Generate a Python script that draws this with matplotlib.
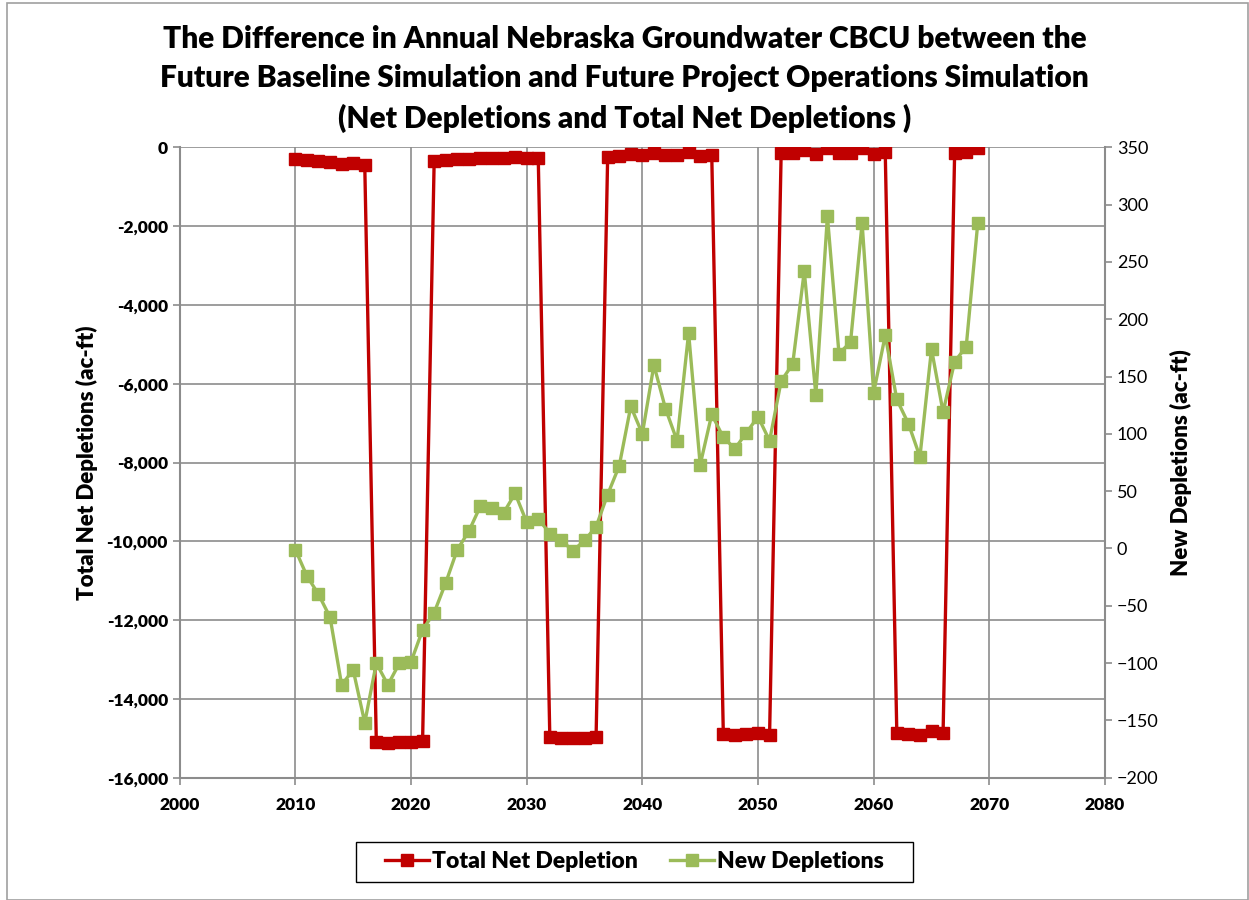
import matplotlib
matplotlib.use("Agg")
import matplotlib.pyplot as plt
import matplotlib.ticker as mticker
from matplotlib.patches import Rectangle

plt.rcParams['font.family'] = ['Lato', 'DejaVu Sans']

years = list(range(2010, 2070))

total_net = [
    -305, -322, -340, -365, -424, -406, -457,
    -15100, -15127, -15094, -15094, -15060,
    -356, -330, -305, -297, -272, -272, -272, -254, -280, -280,
    -14975, -15000, -15000, -15000, -14966,
    -254, -221, -170, -203, -137, -188, -203, -112, -221, -188,
    -14890, -14908, -14890, -14873, -14908,
    -152, -137, -69, -170, -10, -137, -137, -17, -170, -120,
    -14856, -14890, -14916, -14806, -14873,
    -137, -120, -17,
]

new_depl = [
    -1, -24, -40, -60, -119, -106, -152, -100, -119, -100,
    -99, -71, -56, -30, -1, 15, 37, 35, 31, 48,
    23, 26, 13, 7, -2, 7, 19, 47, 72, 124,
    100, 160, 122, 94, 188, 73, 117, 97, 87, 101,
    115, 94, 146, 161, 242, 134, 290, 170, 180, 284,
    136, 186, 130, 109, 80, 174, 119, 163, 176, 284,
]

red = '#C00000'
green = '#9BBB59'
grid_c = '#8C8C8C'
heavy = 'heavy'
W, H = 1249, 900

fig = plt.figure(figsize=(12.49, 9), dpi=100)
# outer chart border
fig.patches.append(Rectangle((7 / W, 0), 1240.5 / W, 1 - 3 / H,
                             transform=fig.transFigure, fill=False,
                             edgecolor='#A0A0A0', linewidth=1.2))

ax = fig.add_axes([179.7 / W, 1 - 777.7 / H, 925.3 / W, 630.4 / H])
ax2 = ax.twinx()

ax.plot(years, total_net, color=red, lw=2.4, marker='s', ms=8,
        label='Total Net Depletion', zorder=3)
ax2.plot(years, new_depl, color=green, lw=2.4, marker='s', ms=8,
         label='New Depletions', zorder=3)

ax.set_xlim(2000, 2080)
ax.set_ylim(-16000, 0)
ax2.set_ylim(-200, 350)
ax.set_xticks(range(2000, 2081, 10))
ax.set_yticks(range(-16000, 1, 2000))
ax2.set_yticks(range(-200, 351, 50))
ax.yaxis.set_major_formatter(mticker.FuncFormatter(lambda v, p: f'{int(v):,}'))

ax.grid(True, color=grid_c, lw=1.2)
ax.set_axisbelow(True)
for a in (ax, ax2):
    for s in a.spines.values():
        s.set_visible(False)
ax.spines['left'].set_visible(True)
ax.spines['bottom'].set_visible(True)
ax2.spines['right'].set_visible(True)
for s in (ax.spines['left'], ax.spines['bottom'], ax2.spines['right']):
    s.set_color(grid_c)
    s.set_linewidth(1.5)

ax.tick_params(axis='both', colors=grid_c, length=5, width=1.2, labelcolor='black',
               labelsize=12.5)
ax2.tick_params(axis='y', colors=grid_c, length=5, width=1.2, labelcolor='black',
                labelsize=13)
ax.tick_params(axis='x', pad=9)
for lab in ax.get_xticklabels() + ax.get_yticklabels():
    lab.set_fontweight(heavy)

ax.set_ylabel('Total Net Depletions (ac-ft)', fontsize=16, fontweight=heavy, labelpad=6)
ax2.set_ylabel('New Depletions (ac-ft)', fontsize=16, fontweight=heavy, labelpad=8)

fig.text(0.5, 1 - 79 / H,
         'The Difference in Annual Nebraska Groundwater CBCU between the\n'
         'Future Baseline Simulation and Future Project Operations Simulation\n'
         '(Net Depletions and Total Net Depletions )',
         ha='center', va='center', fontsize=21.5, fontweight=heavy, linespacing=1.5)

h1, l1 = ax.get_legend_handles_labels()
h2, l2 = ax2.get_legend_handles_labels()
leg = fig.legend(h1 + h2, l1 + l2, loc='center', bbox_to_anchor=(634 / W, 1 - 862 / H),
                 ncol=2, prop={'weight': heavy, 'size': 16.5},
                 frameon=False, handlelength=1.95, handletextpad=0.1,
                 columnspacing=1.4, borderpad=0.3, borderaxespad=0)
# legend box
fig.patches.append(Rectangle((356 / W, 1 - 882 / H), 557 / W, 40 / H,
                             transform=fig.transFigure, fill=False,
                             edgecolor='black', linewidth=1.0))

fig.savefig('out.png', dpi=100)
